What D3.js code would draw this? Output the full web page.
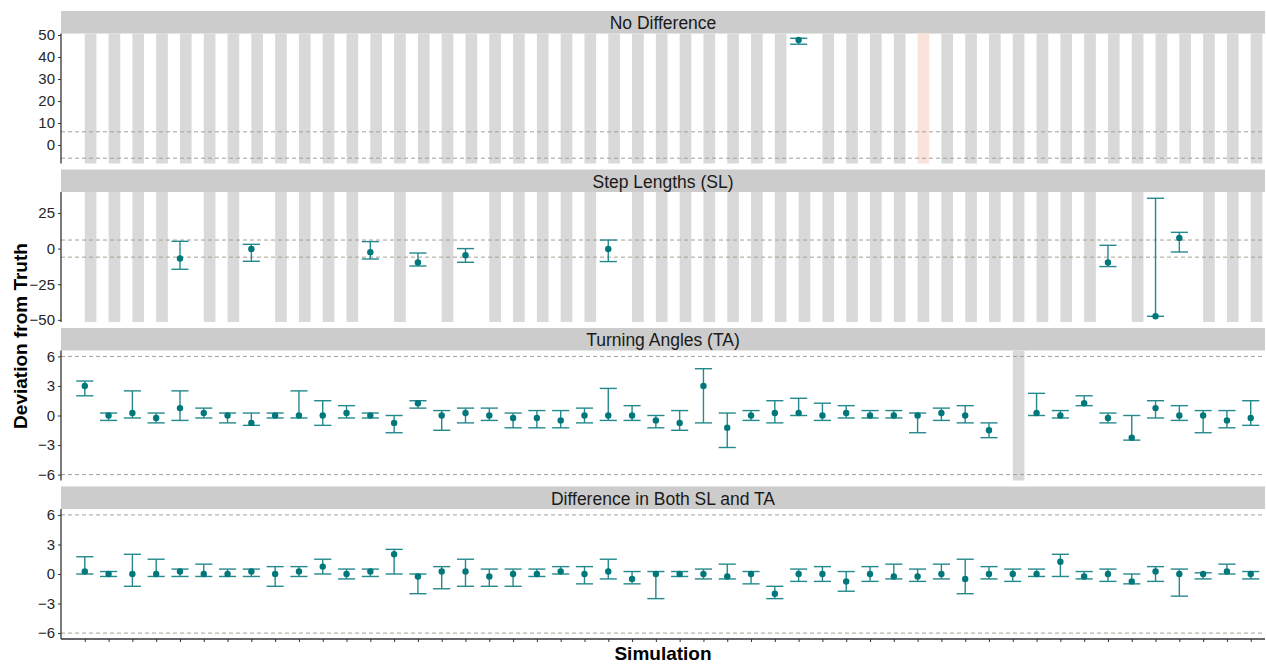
<!DOCTYPE html>
<html>
<head>
<meta charset="utf-8">
<script src="https://cdn.jsdelivr.net/npm/d3@7/dist/d3.min.js"></script>
<style>
  html, body { margin: 0; padding: 0; background: #fff; }
  svg { display: block; font-family: "Liberation Sans", Arial, sans-serif; }
</style>
</head>
<body>
<svg id="chart" width="1266" height="664"></svg>
<script>
// Simulation identifiers (x categories)
const simulations = [1,2,3,4,5,6,7,8,9,10,11,12,13,14,15,16,17,18,19,20,21,22,23,24,25,
                     26,27,28,29,30,31,32,33,34,35,36,37,38,39,40,41,42,43,44,45,46,47,48,49,50];

// Panel titles
const panelTitles = ["No Difference", "Step Lengths (SL)", "Turning Angles (TA)", "Difference in Both SL and TA"];

// Tick labels for each panel's y axis
const ticksNoDiff = [0, 10, 20, 30, 40, 50];
const ticksSL = [-50, -25, 0, 25];
const ticksTA = [-6, -3, 0, 3, 6];
const ticksBoth = [-6, -3, 0, 3, 6];

// Equivalence bounds (dashed reference lines)
const bounds = [-6, 6];

// Simulations whose model did not converge (shown as grey columns)
const failedNoDiff = [1,2,3,4,5,6,7,8,9,10,11,12,13,14,15,16,17,18,19,20,21,22,23,24,25,
                      26,27,28,29,30,32,33,34,35,37,38,39,40,41,42,43,44,45,46,47,48,49,50];
const flaggedNoDiff = [36];
const failedSL = [1,2,3,4,6,7,9,10,11,12,14,16,18,19,20,21,22,24,25,26,27,28,29,30,
                  31,32,33,34,35,36,37,38,39,40,41,42,43,45,48,49,50];
const failedTA = [40];
const failedBoth = [];

// No Difference: estimates (null where not estimated)
const estNoDiff = simulations.map(s => s === 31 ? 47.7 : null);
const lowNoDiff = simulations.map(s => s === 31 ? 45.8 : null);
const highNoDiff = simulations.map(s => s === 31 ? 48.5 : null);

// Step Lengths
const slSims = [5, 8, 13, 15, 17, 23, 44, 46, 47];
const slEst  = [-7.0, -0.3, -2.6, -9.8, -4.7, -0.3, -9.8, -47.5, 7.5];
const slLow  = [-14.5, -8.9, -7.3, -12.2, -9.6, -9.1, -12.6, -47.5, -2.4];
const slHigh = [5.1, 3.0, 4.9, -3.1, 0.0, 6.0, 2.3, 35.3, 11.4];

// Turning Angles (null for sim 40)
const taEst = [3.0, 0.0, 0.25, -0.25, 0.75, 0.25, 0.0, -0.75, 0.0, 0.0,
               0.0, 0.25, 0.0, -0.75, 1.25, 0.0, 0.25, 0.0, -0.25, -0.25,
               -0.5, 0.0, 0.0, 0.0, -0.5, -0.75, 3.0, -1.25, 0.0, 0.25,
               0.25, 0.0, 0.25, 0.0, 0.0, 0.0, 0.25, 0.0, -1.5, null,
               0.25, 0.0, 1.25, -0.25, -2.25, 0.75, 0.0, 0.0, -0.5, -0.25];
const taLow = [2.0, -0.5, -0.25, -0.75, -0.5, -0.25, -0.75, -1.0, -0.25, -0.25,
               -1.0, -0.25, -0.25, -1.75, 0.75, -1.5, -0.75, -0.5, -1.25, -1.25,
               -1.25, -0.75, -0.5, -0.5, -1.25, -1.5, -0.75, -3.25, -0.5, -0.75,
               0.0, -0.5, -0.25, -0.25, -0.25, -1.75, -0.5, -0.75, -2.25, null,
               0.0, -0.25, 1.0, -0.75, -2.5, -0.25, -0.5, -1.75, -1.25, -1.0];
const taHigh = [3.5, 0.25, 2.5, 0.25, 2.5, 0.75, 0.25, 0.25, 0.25, 2.5,
                1.5, 1.0, 0.25, 0.0, 1.5, 0.5, 0.75, 0.75, 0.25, 0.5,
                0.5, 0.75, 2.75, 1.0, 0.0, 0.5, 4.75, 0.25, 0.5, 1.5,
                1.75, 1.25, 1.0, 0.5, 0.5, 0.25, 0.75, 1.0, -0.75, null,
                2.25, 0.5, 2.0, 0.25, 0.0, 1.5, 1.0, 0.5, 0.5, 1.5];

// Difference in Both SL and TA
const bothEst = [0.25, 0.0, 0.0, 0.0, 0.25, 0.0, 0.0, 0.25, 0.0, 0.25,
                 0.75, 0.0, 0.25, 2.0, -0.25, 0.25, 0.25, -0.25, 0.0, 0.0,
                 0.25, 0.0, 0.25, -0.5, 0.0, 0.0, 0.0, -0.25, 0.0, -2.0,
                 0.0, 0.0, -0.75, 0.0, -0.25, -0.25, 0.0, -0.5, 0.0, 0.0,
                 0.0, 1.25, -0.25, 0.0, -0.75, 0.25, 0.0, 0.0, 0.25, 0.0];
const bothLow = [0.0, -0.25, -1.25, -0.25, -0.25, -0.25, -0.25, -0.25, -1.25, -0.25,
                 0.0, -0.5, -0.25, 0.0, -2.0, -1.5, -1.25, -1.25, -1.25, -0.25,
                 0.0, -1.0, -0.5, -1.0, -2.5, -0.25, -0.5, -0.5, -1.0, -2.5,
                 -0.75, -0.75, -1.75, -0.75, -0.5, -0.75, -0.5, -2.0, -0.5, -0.75,
                 -0.25, -0.25, -0.5, -0.75, -1.0, -0.75, -2.25, -0.5, 0.0, -0.5];
const bothHigh = [1.75, 0.25, 2.0, 1.5, 0.5, 1.0, 0.5, 0.5, 0.75, 0.75,
                  1.5, 0.5, 0.5, 2.5, 0.0, 0.75, 1.5, 0.5, 0.5, 0.5,
                  0.75, 0.75, 1.5, 0.25, 0.25, 0.25, 0.5, 1.0, 0.25, -1.25,
                  0.5, 0.75, 0.25, 0.75, 1.0, 0.5, 1.0, 1.5, 0.75, 0.5,
                  0.5, 2.0, 0.25, 0.5, 0.0, 0.75, 0.5, 0.12, 1.0, 0.25];

// Build per-panel rows
function rows(est, low, high) {
  return simulations.map((s, i) => ({ sim: s, est: est[i], low: low[i], high: high[i] }))
                    .filter(d => d.est !== null);
}
const slRows = slSims.map((s, i) => ({ sim: s, est: slEst[i], low: slLow[i], high: slHigh[i] }));

const panels = [
  { title: panelTitles[0], domain: [-8.41, 50.68], ticks: ticksNoDiff, failed: failedNoDiff, flagged: flaggedNoDiff, data: rows(estNoDiff, lowNoDiff, highNoDiff) },
  { title: panelTitles[1], domain: [-51.5, 39.7], ticks: ticksSL, failed: failedSL, flagged: [], data: slRows },
  { title: panelTitles[2], domain: [-6.6, 6.6], ticks: ticksTA, failed: failedTA, flagged: [], data: rows(taEst, taLow, taHigh) },
  { title: panelTitles[3], domain: [-6.6, 6.6], ticks: ticksBoth, failed: failedBoth, flagged: [], data: rows(bothEst, bothLow, bothHigh) }
];

// Layout
const left = 61, right = 1265, top0 = 11;
const stripH = 22.5, plotH = 130, gap = 6;
const teal = "#00787B", tealBar = "#24898C";
const font = "'Liberation Sans', Arial, sans-serif";

const svg = d3.select("#chart");
const x = d3.scaleLinear().domain([0, 50.6]).range([left, right]);
const unit = x(1) - x(0);

panels.forEach((p, k) => {
  const stripTop = top0 + k * (stripH + plotH + gap);
  const pTop = stripTop + stripH, pBot = pTop + plotH;
  const y = d3.scaleLinear().domain(p.domain).range([pBot, pTop]);
  const g = svg.append("g");

  // strip
  g.append("rect").attr("x", left).attr("y", stripTop).attr("width", right - left).attr("height", stripH)
    .attr("fill", "#CCCCCC");
  g.append("text").attr("x", (left + right) / 2).attr("y", stripTop + 18.2)
    .attr("text-anchor", "middle").attr("font-size", 17.5).attr("fill", "#1A1A1A").text(p.title);

  // non-converged columns
  g.selectAll("rect.failed").data(p.failed).join("rect")
    .attr("x", d => x(d)).attr("y", pTop).attr("width", unit * 0.49).attr("height", plotH)
    .attr("fill", "#D9D9D9");
  g.selectAll("rect.flag").data(p.flagged).join("rect")
    .attr("x", d => x(d)).attr("y", pTop).attr("width", unit * 0.49).attr("height", plotH)
    .attr("fill", "#FBE3DB");

  // equivalence bounds
  g.selectAll("line.bound").data(bounds).join("line")
    .attr("x1", left).attr("x2", right).attr("y1", d => y(d)).attr("y2", d => y(d))
    .attr("stroke", "#A89E90").attr("stroke-width", 1).attr("stroke-dasharray", "4,3");

  // y axis
  const ax = g.append("g").attr("transform", `translate(${left},0)`)
    .call(d3.axisLeft(y).tickValues(p.ticks).tickSize(3).tickPadding(3).tickFormat(d3.format("d")));
  ax.select(".domain").attr("stroke", "#333").attr("stroke-width", 1.3).attr("d", `M0,${pTop}V${pBot}`);
  ax.selectAll(".tick line").attr("stroke", "#333");
  ax.selectAll(".tick text").attr("font-size", 15).attr("fill", "#262626").attr("font-family", font);

  // error bars
  const cap = unit * 0.36;
  const eb = g.selectAll("g.eb").data(p.data).join("g");
  eb.append("line").attr("x1", d => x(d.sim)).attr("x2", d => x(d.sim))
    .attr("y1", d => y(d.low)).attr("y2", d => y(d.high)).attr("stroke", tealBar).attr("stroke-width", 1.4);
  eb.append("line").attr("x1", d => x(d.sim) - cap).attr("x2", d => x(d.sim) + cap)
    .attr("y1", d => y(d.low)).attr("y2", d => y(d.low)).attr("stroke", tealBar).attr("stroke-width", 1.4);
  eb.append("line").attr("x1", d => x(d.sim) - cap).attr("x2", d => x(d.sim) + cap)
    .attr("y1", d => y(d.high)).attr("y2", d => y(d.high)).attr("stroke", tealBar).attr("stroke-width", 1.4);
  eb.append("circle").attr("cx", d => x(d.sim)).attr("cy", d => y(d.est)).attr("r", 3.2).attr("fill", teal);

  // x axis on the bottom panel only
  if (k === panels.length - 1) {
    const xa = g.append("g").attr("transform", `translate(0,${pBot})`)
      .call(d3.axisBottom(x).tickValues(simulations).tickSize(3).tickFormat(""));
    xa.select(".domain").attr("stroke", "#333").attr("stroke-width", 1.3).attr("d", `M${left},0H${right}`);
    xa.selectAll(".tick line").attr("stroke", "#333");
  }
});

// axis titles
svg.append("text").attr("transform", "translate(27,336) rotate(-90)").attr("text-anchor", "middle")
  .attr("font-size", 19).attr("font-weight", "bold").attr("fill", "#000").text("Deviation from Truth");
svg.append("text").attr("x", 663).attr("y", 660).attr("text-anchor", "middle")
  .attr("font-size", 19).attr("font-weight", "bold").attr("fill", "#000").text("Simulation");
</script>
</body>
</html>
